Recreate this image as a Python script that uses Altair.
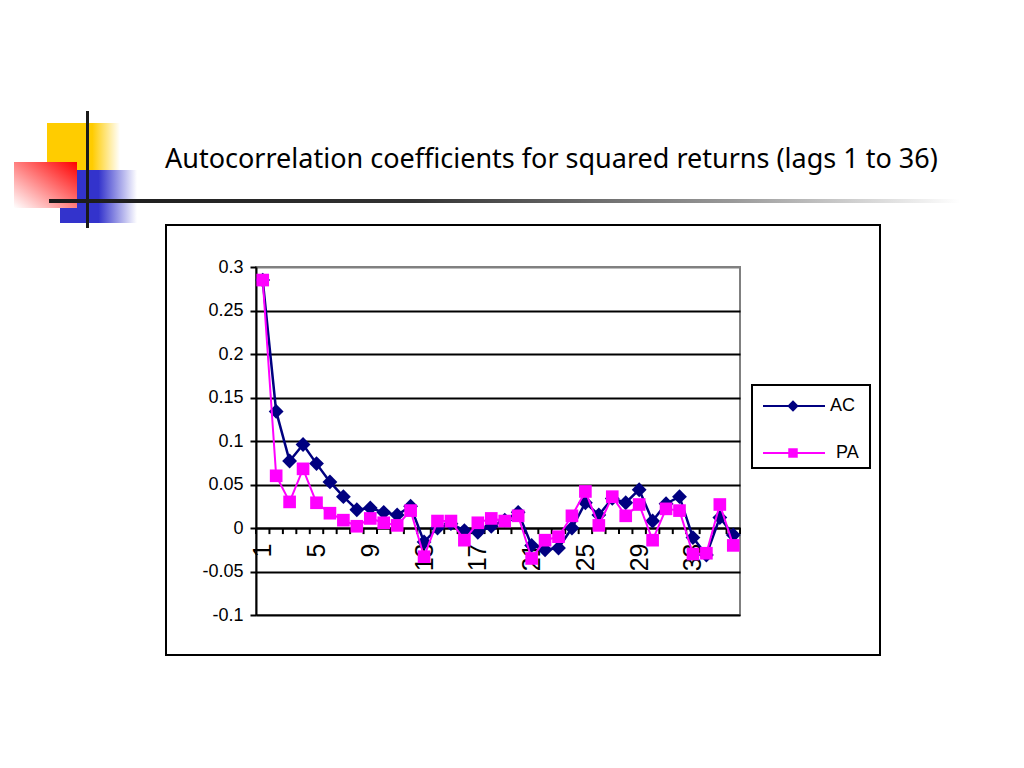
import altair as alt
import pandas as pd

# ---- data ----
lags = list(range(1, 37))
ac = [0.285, 0.134, 0.077, 0.096, 0.074, 0.053, 0.036, 0.021, 0.023, 0.018,
      0.015, 0.025, -0.016, 0.000, 0.005, -0.003, -0.005, 0.002, 0.009, 0.018,
      -0.020, -0.025, -0.023, 0.000, 0.029, 0.015, 0.034, 0.029, 0.044, 0.008,
      0.028, 0.036, -0.011, -0.031, 0.012, -0.008]
pa = [0.285, 0.060, 0.030, 0.068, 0.029, 0.017, 0.009, 0.002, 0.011, 0.006,
      0.003, 0.020, -0.033, 0.008, 0.008, -0.014, 0.006, 0.011, 0.008, 0.014,
      -0.035, -0.014, -0.010, 0.014, 0.042, 0.003, 0.036, 0.014, 0.027, -0.014,
      0.022, 0.020, -0.030, -0.029, 0.027, -0.020]
series_names = ["AC", "PA"]
series_colors = ["#000080", "#FF00FF"]
series_shapes = ["diamond", "square"]
y_ticks = [-0.1, -0.05, 0, 0.05, 0.1, 0.15, 0.2, 0.25, 0.3]
x_label_lags = [1, 5, 9, 13, 17, 21, 25, 29, 33]
title_text = "Autocorrelation coefficients for squared returns (lags 1 to 36)"

W, H = 484, 348

df = pd.DataFrame({
    "lag": lags * 2,
    "value": ac + pa,
    "series": [series_names[0]] * len(lags) + [series_names[1]] * len(lags),
})
df_ticks = pd.DataFrame({"lag": [l - 0.5 for l in lags] + [lags[-1] + 0.5]})
one = pd.DataFrame({"k": [0]})

x_enc = alt.X(
    "lag:Q",
    scale=alt.Scale(domain=[0.5, 36.5], nice=False, zero=False),
    axis=alt.Axis(values=x_label_lags, labelAngle=270, ticks=False, tickSize=0,
                  grid=False, domain=True, domainColor="black", domainWidth=2,
                  offset=-87, labelFont="Liberation Sans", labelFontSize=25,
                  labelColor="black", labelPadding=15, title=None,
                  labelFlush=False, labelOverlap=False),
)
y_enc = alt.Y(
    "value:Q",
    scale=alt.Scale(domain=[-0.1, 0.3], nice=False, zero=False),
    axis=alt.Axis(values=y_ticks, labelExpr="'' + datum.value", grid=True,
                  gridColor={"condition": {"test": "datum.value === 0.3", "value": "#808080"},
                             "value": "black"},
                  gridWidth=2, domainColor="black", domainWidth=2,
                  tickColor="black", tickSize=6, tickWidth=2,
                  labelFont="Liberation Sans", labelFontSize=18,
                  labelColor="black", labelPadding=7, title=None),
)

layers = []

# chart frame
layers.append(alt.Chart(one).mark_rect(fill="white", fillOpacity=0, stroke="black", strokeWidth=2).encode(
    x=alt.value(-90), x2=alt.value(624), y=alt.value(-42), y2=alt.value(388)))

# decorations
def grad(stops, x1=0, y1=0, x2=1, y2=0):
    return alt.LinearGradient(gradient="linear",
                              stops=[alt.GradientStop(color=c, offset=o) for o, c in stops],
                              x1=x1, y1=y1, x2=x2, y2=y2)

layers.append(alt.Chart(one).mark_rect(color=grad([(0, "#FFCC00"), (0.62, "#FFCC00"), (1, "#FFFFFF")])).encode(
    x=alt.value(-209), x2=alt.value(-136), y=alt.value(-144), y2=alt.value(-95)))
layers.append(alt.Chart(one).mark_rect(color=grad([(0, "#3333CC"), (0.5, "#3333CC"), (1, "#FFFFFF")])).encode(
    x=alt.value(-196), x2=alt.value(-119), y=alt.value(-97), y2=alt.value(-44)))
layers.append(alt.Chart(one).mark_rect(color=grad([(0, "#FF0000"), (1, "#FFFFFF")], x1=1, y1=0, x2=0, y2=1)).encode(
    x=alt.value(-242), x2=alt.value(-179), y=alt.value(-105), y2=alt.value(-59)))
layers.append(alt.Chart(one).mark_rect(color="#1a1a1a").encode(
    x=alt.value(-170), x2=alt.value(-167), y=alt.value(-156), y2=alt.value(-39)))
layers.append(alt.Chart(one).mark_rect(
    color=grad([(0, "#1a1a1a"), (0.4, "#333333"), (0.75, "#999999"), (1, "#FFFFFF")])).encode(
    x=alt.value(-207), x2=alt.value(704), y=alt.value(-68), y2=alt.value(-64)))

# title
layers.append(alt.Chart(one).mark_text(align="left", baseline="middle", font="Noto Sans",
                                      fontSize=27, color="black").encode(
    x=alt.value(-91), y=alt.value(-107), text=alt.value(title_text)))

# x tick marks at category boundaries
layers.append(alt.Chart(df_ticks).mark_rule(color="black", strokeWidth=2).encode(
    x=x_enc, y=alt.datum(0), y2=alt.datum(-0.007)))

# series
for name, color, shape, sw, sz in zip(series_names, series_colors, series_shapes, [2.5, 2], [220, 160]):
    base = alt.Chart(df).transform_filter(alt.datum.series == name)
    layers.append(base.mark_line(color=color, strokeWidth=sw).encode(x=x_enc, y=y_enc))
    layers.append(base.mark_point(shape=shape, filled=True, color=color, size=sz, opacity=1).encode(x=x_enc, y=y_enc))

# legend
layers.append(alt.Chart(one).mark_rect(fill="white", stroke="black", strokeWidth=2).encode(
    x=alt.value(496), x2=alt.value(614), y=alt.value(118), y2=alt.value(201)))
for name, color, shape, ly, tx, sz in zip(series_names, series_colors, series_shapes,
                                          [139, 186], [574, 580], [130, 90]):
    layers.append(alt.Chart(one).mark_rule(color=color, strokeWidth=2).encode(
        x=alt.value(507), x2=alt.value(569), y=alt.value(ly)))
    layers.append(alt.Chart(one).mark_point(shape=shape, filled=True, color=color, size=sz, opacity=1).encode(
        x=alt.value(537), y=alt.value(ly)))
    layers.append(alt.Chart(one).mark_text(align="left", baseline="middle", font="Liberation Sans",
                                          fontSize=18, color="black").encode(
        x=alt.value(tx), y=alt.value(ly), text=alt.value(name)))

chart = alt.layer(*layers).properties(
    width=W, height=H,
    autosize=alt.AutoSizeParams(type="none"),
    padding={"left": 248, "top": 259, "right": 270, "bottom": 140},
    background="white",
).configure_view(stroke="#808080", strokeWidth=2)

chart.save("out.html", embed_options={"renderer": "svg", "actions": False})
